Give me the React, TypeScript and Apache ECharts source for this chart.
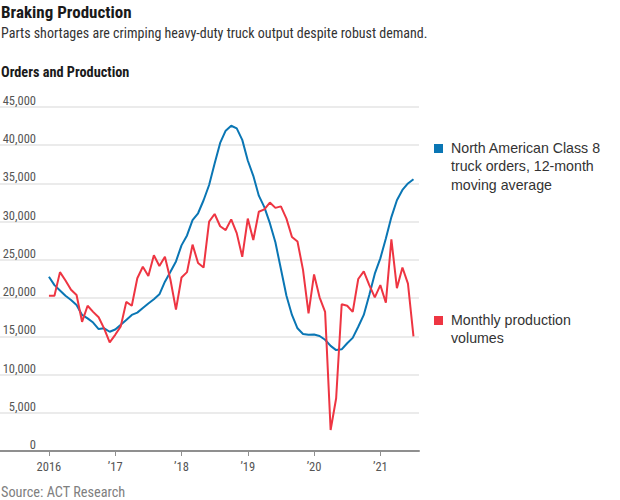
import React, { useEffect, useRef } from "react";
import * as echarts from "echarts";

// Monthly data, Jan 2016 (index 0) to Jul 2021 (index 66)
const ordersAvg = [
  22800, 21700, 21000, 20300, 19750, 19100, 17800, 17350, 16800, 15950, 16050, 15600,
  15900, 16500, 17150, 17800, 18100, 18700, 19300, 19850, 20500, 22150, 23450, 24800,
  26900, 28200, 30200, 31100, 32800, 34800, 37600, 40300, 41900, 42550, 42200, 40700,
  38000, 36000, 33400, 31900, 29800, 27300, 23800, 20300, 17800, 16050, 15300, 15200,
  15250, 15050, 14550, 13750, 13200, 13300, 14100, 14800, 16250, 17800, 20400, 23200,
  25200, 27800, 30600, 32800, 34150, 35000, 35550,
];
const production = [
  20300, 20300, 23400, 22300, 21100, 20400, 16900, 19000, 18200, 17500, 16000, 14200,
  15200, 16300, 19500, 19000, 22600, 24100, 22900, 25600, 24200, 25400, 22400, 18500,
  22700, 23400, 27000, 24600, 24000, 30000, 31000, 29400, 28900, 30300, 28500, 25400,
  30400, 27600, 31300, 31600, 32500, 31800, 32000, 30400, 28000, 27400, 23700, 18000,
  23100, 20100, 18200, 2750, 6900, 19200, 19000, 18200, 22500, 23500, 21700, 20100,
  21700, 19400, 27700, 21300, 24000, 21900, 15000,
];
const xTickValues = [0, 12, 24, 36, 48, 60];
const xTickLabels = ["2016", "\u201917", "\u201918", "\u201919", "\u201920", "\u201921"];
const yTicks = [0, 5000, 10000, 15000, 20000, 25000, 30000, 35000, 40000, 45000];

const seriesNames = [
  "North American Class 8 truck orders, 12-month moving average",
  "Monthly production volumes",
];
const legendLines = [
  ["North American Class 8", "truck orders, 12-month", "moving average"],
  ["Monthly production", "volumes"],
];

const BLUE = "#0a76b4";
const RED = "#ee3542";
const NARROW = "'Liberation Sans Narrow', 'Roboto Condensed', 'Noto Sans', sans-serif";
const REG = "'Liberation Sans', Roboto, 'Noto Sans', sans-serif";

export default function App() {
  const ref = useRef<HTMLDivElement>(null);
  useEffect(() => {
    if (!ref.current) return;
    const chart = echarts.init(ref.current, null, { renderer: "svg" });
    const txt = (text: string, x: number, y: number, size: number, color: string, weight = "normal", family = NARROW) => ({
      type: "text",
      x,
      y,
      style: { text, fill: color, fontSize: size, fontWeight: weight, fontFamily: family, verticalAlign: "middle", textAlign: "left" },
    });
    const graphic: any[] = [
      txt("Braking Production", 1, 12, 17, "#1a1a1a", "bold"),
      txt("Parts shortages are crimping heavy-duty truck output despite robust demand.", 1, 33, 14, "#333"),
      txt("Orders and Production", 1, 71.5, 14.3, "#1a1a1a", "bold"),
      txt("Source: ACT Research", 1, 492, 14.3, "#808080"),
      { type: "rect", shape: { x: 434, y: 144, width: 9, height: 9 }, style: { fill: BLUE } },
      { type: "rect", shape: { x: 434, y: 316, width: 9, height: 9 }, style: { fill: RED } },
    ];
    legendLines[0].forEach((l, i) => graphic.push(txt(l, 451, 148 + i * 18.3, 14.2, "#333", "normal", REG)));
    legendLines[1].forEach((l, i) => graphic.push(txt(l, 451, 319.5 + i * 18.3, 14.2, "#333", "normal", REG)));

    chart.setOption({
      animation: false,
      grid: { left: 0, right: 201, top: 107, bottom: 49, containLabel: false, outerBoundsMode: "none" },
      xAxis: {
        type: "value",
        min: -8.86,
        max: 67,
        splitLine: { show: false },
        axisLine: { show: true, onZero: true, lineStyle: { color: "#8f8f8f", width: 2 } },
        axisTick: { show: true, customValues: xTickValues, length: 5, lineStyle: { color: "#8f8f8f", width: 1 } },
        axisLabel: {
          customValues: xTickValues,
          formatter: (v: number) => xTickLabels[xTickValues.indexOf(Math.round(v))] ?? "",
          margin: 9,
          color: "#555",
          fontSize: 12.5,
          fontFamily: NARROW,
        },
      },
      yAxis: {
        type: "value",
        min: 0,
        max: 45000,
        interval: 5000,
        axisLine: { show: false },
        axisTick: { show: false },
        splitLine: { lineStyle: { color: "#ebebeb", width: 2 } },
        axisLabel: {
          inside: true,
          align: "right",
          verticalAlign: "bottom",
          margin: 36,
          color: "#555",
          fontSize: 12.5,
          fontFamily: NARROW,
          formatter: (v: number) => (yTicks.includes(v) ? v.toLocaleString("en-US") : ""),
        },
      },
      series: [
        {
          name: seriesNames[0],
          type: "line",
          data: ordersAvg.map((v, i) => [i, v]),
          showSymbol: false,
          lineStyle: { color: BLUE, width: 2 },
          itemStyle: { color: BLUE },
        },
        {
          name: seriesNames[1],
          type: "line",
          data: production.map((v, i) => [i, v]),
          showSymbol: false,
          lineStyle: { color: RED, width: 2 },
          itemStyle: { color: RED },
        },
      ],
      graphic,
    });
    return () => chart.dispose();
  }, []);
  return <div ref={ref} style={{ position: "absolute", left: 0, top: 0, width: 620, height: 500 }} />;
}
